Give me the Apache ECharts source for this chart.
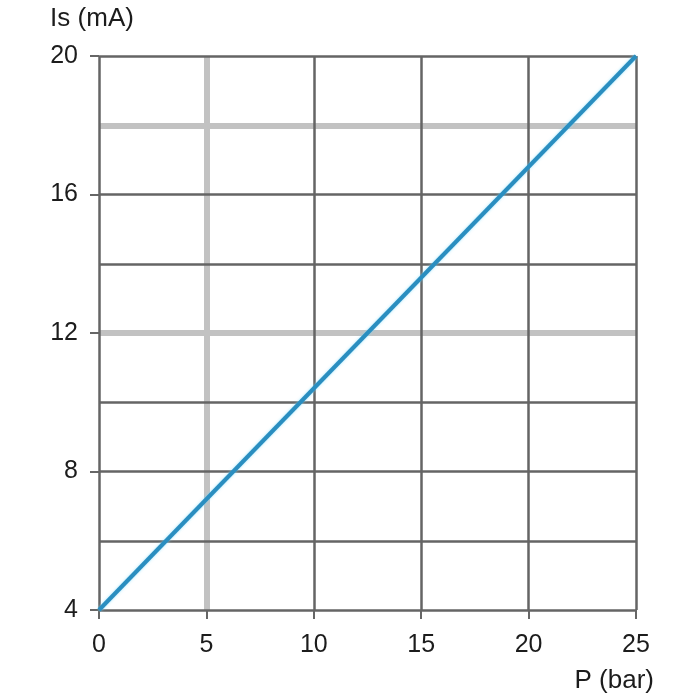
<!DOCTYPE html>
<html>
<head>
<meta charset="utf-8">
<script src="https://cdn.jsdelivr.net/npm/echarts@6/dist/echarts.min.js"></script>
<style>html,body{margin:0;padding:0;background:#fff}#c{width:700px;height:700px}</style>
</head>
<body>
<div id="c"></div>
<script>
// Data
const pressure = [0, 25];          // P (bar)
const current = [4, 20];           // Is (mA)
const xLabels = [0, 5, 10, 15, 20, 25];
const yLabels = [4, 8, 12, 16, 20];
const darkGridX = [0, 10, 15, 20, 25];
const lightGridX = [5];
const darkGridY = [4, 6, 8, 10, 14, 16, 20];
const lightGridY = [12, 18];

const FONT = 'Liberation Sans, Arial, sans-serif';
const TXT = '#1c1c1c';
const chart = echarts.init(document.getElementById('c'));
chart.setOption({
  animation: false,
  backgroundColor: '#fff',
  grid: { left: 99, right: 64, top: 56, bottom: 90 },
  xAxis: {
    type: 'value', min: xLabels[0], max: xLabels[xLabels.length - 1], interval: 5,
    name: 'P (bar)', nameLocation: 'end', nameGap: 18,
    nameTextStyle: { fontFamily: FONT, fontSize: 26, color: TXT, align: 'right', verticalAlign: 'top', padding: [58, 0, 0, 0] },
    axisLine: { show: false },
    axisTick: { show: true, length: 9, lineStyle: { color: '#666', width: 2 } },
    axisLabel: { fontFamily: FONT, fontSize: 25, color: TXT, margin: 23 },
    splitLine: { show: false }
  },
  yAxis: {
    type: 'value', min: yLabels[0], max: yLabels[yLabels.length - 1], interval: 4,
    name: 'Is (mA)', nameLocation: 'end', nameGap: 24,
    nameTextStyle: { fontFamily: FONT, fontSize: 26, color: TXT, align: 'center', padding: [0, 14, 0, 0] },
    axisLine: { show: false },
    axisTick: { show: true, length: 9, lineStyle: { color: '#666', width: 2 } },
    axisLabel: { fontFamily: FONT, fontSize: 25, color: TXT, margin: 21 },
    splitLine: { show: false }
  },
  series: [
    {
      type: 'line', data: [], silent: true,
      markLine: {
        silent: true, z: 1, symbol: ['none', 'none'], label: { show: false },
        lineStyle: { color: '#c2c2c2', width: 6, type: 'solid' },
        data: lightGridX.map(v => ({ xAxis: v })).concat(lightGridY.map(v => ({ yAxis: v })))
      }
    },
    {
      type: 'line', data: [], silent: true,
      markLine: {
        silent: true, z: 2, symbol: ['none', 'none'], label: { show: false },
        lineStyle: { color: '#656565', width: 2.5, type: 'solid' },
        data: darkGridX.map(v => ({ xAxis: v })).concat(darkGridY.map(v => ({ yAxis: v })))
      }
    },
    {
      type: 'line', z: 10, symbol: 'none',
      data: pressure.map((p, i) => [p, current[i]]),
      lineStyle: { color: '#2a8ec0', width: 4, shadowColor: 'rgba(120,220,255,0.7)', shadowBlur: 3 }
    }
  ]
});
</script>
</body>
</html>
